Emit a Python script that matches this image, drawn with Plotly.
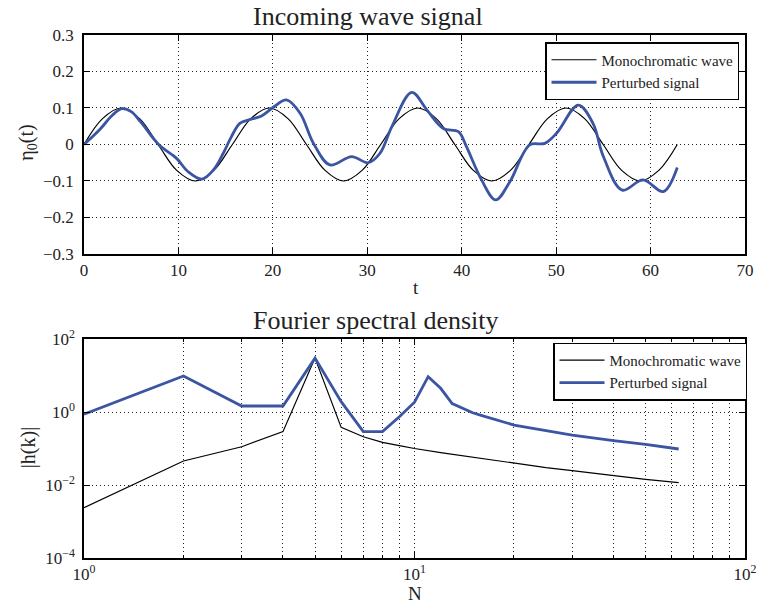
import plotly.graph_objects as go

# ---------------- data ----------------
# Top panel: incoming wave signal
t_mono = [0.00, 1.96, 3.93, 5.89, 7.85, 9.82, 11.78, 13.74, 15.71, 17.67, 19.63,
          21.60, 23.56, 25.53, 27.49, 29.45, 31.42, 33.38, 35.34, 37.31, 39.27,
          41.23, 43.20, 45.16, 47.12, 49.09, 51.05, 53.01, 54.98, 56.94, 58.90,
          60.87, 62.83]
eta_mono = [0.000, 0.071, 0.100, 0.071, 0.000, -0.071, -0.100, -0.071, 0.000, 0.071, 0.100,
            0.071, 0.000, -0.071, -0.100, -0.071, 0.000, 0.071, 0.100, 0.071, 0.000,
            -0.071, -0.100, -0.071, 0.000, 0.071, 0.100, 0.071, 0.000, -0.071, -0.100,
            -0.071, 0.000]

t_pert = [0.0, 1.7, 3.0, 4.0, 5.0, 6.0, 7.9, 9.8, 11.0, 12.5, 13.7, 14.75, 15.6, 16.5,
          17.4, 18.8, 20.05, 21.45, 22.9, 24.3, 26.05, 28.35, 30.1, 31.35, 32.6, 34.7,
          36.3, 38.05, 39.65, 40.5, 42.1, 43.6, 45.1, 47.2, 48.8, 50.05, 52.35, 53.9,
          55.0, 57.0, 59.2, 61.35, 62.83]
eta_pert = [0.000, 0.042, 0.080, 0.098, 0.090, 0.062, 0.000, -0.038, -0.074, -0.095, -0.070,
            -0.024, 0.021, 0.058, 0.067, 0.078, 0.102, 0.122, 0.085, 0.003, -0.056, -0.033,
            -0.050, -0.024, 0.049, 0.143, 0.095, 0.044, 0.035, -0.006, -0.097, -0.152,
            -0.102, -0.001, 0.003, 0.031, 0.108, 0.058, -0.033, -0.125, -0.097, -0.129,
            -0.063]

# Bottom panel: Fourier spectral density
N_mono = [1, 2, 3, 4, 5, 6, 7, 8, 9, 10, 12, 15, 20, 25, 30, 40, 50, 63]
h_mono = [0.0024, 0.0455, 0.112, 0.29, 30.0, 0.38, 0.21, 0.148, 0.12, 0.10, 0.077,
          0.057, 0.039, 0.030, 0.0247, 0.0177, 0.0143, 0.0116]

N_pert = [1, 2, 3, 4, 5, 6, 7, 8, 9, 10, 11, 12, 13, 14, 15, 16, 17, 18, 20, 25, 30,
          40, 50, 63]
h_pert = [0.865, 9.7, 1.46, 1.46, 30.0, 1.92, 0.29, 0.29, 0.74, 1.85, 9.3, 4.46, 1.7,
          1.26, 0.955, 0.80, 0.68, 0.58, 0.44, 0.31, 0.234, 0.164, 0.13, 0.097]

x2_tickvals = [1, 10, 100]
x2_ticktext = ["10<sup>0</sup>", "10<sup>1</sup>", "10<sup>2</sup>"]
x2_minorvals = [2, 3, 4, 5, 6, 7, 8, 9, 20, 30, 40, 50, 60, 70, 80, 90]
y2_tickvals = [1e-4, 1e-2, 1, 100]
y2_ticktext = ["10<sup>\u22124</sup>", "10<sup>\u22122</sup>", "10<sup>0</sup>", "10<sup>2</sup>"]

# ---------------- styling ----------------
FONT = "Liberation Serif"
BLUE = "#3b55a3"
GRIDDASH = "1px,3px"

fig = go.Figure()
fig.add_trace(go.Scatter(x=t_mono, y=eta_mono, mode="lines", name="Monochromatic wave",
                         line=dict(color="black", width=1.2, shape="spline"),
                         xaxis="x", yaxis="y", legend="legend"))
fig.add_trace(go.Scatter(x=t_pert, y=eta_pert, mode="lines", name="Perturbed signal",
                         line=dict(color=BLUE, width=2.8, shape="spline"),
                         xaxis="x", yaxis="y", legend="legend"))
fig.add_trace(go.Scatter(x=N_mono, y=h_mono, mode="lines", name="Monochromatic wave",
                         line=dict(color="black", width=1.2),
                         xaxis="x2", yaxis="y2", legend="legend2"))
fig.add_trace(go.Scatter(x=N_pert, y=h_pert, mode="lines", name="Perturbed signal",
                         line=dict(color=BLUE, width=2.8),
                         xaxis="x2", yaxis="y2", legend="legend2"))

axis_common = dict(showline=True, linecolor="black", linewidth=1.5, mirror="ticks",
                   ticks="inside", ticklen=6, tickcolor="black", tickwidth=1,
                   showgrid=True, gridcolor="#222222", gridwidth=1, griddash=GRIDDASH,
                   zeroline=False, automargin=False,
                   tickfont=dict(family=FONT, size=17, color="#222"))

fig.update_layout(
    width=762, height=605,
    margin=dict(l=84, r=17, t=35, b=47, autoexpand=False),
    paper_bgcolor="white", plot_bgcolor="white",
    font=dict(family=FONT, color="#222"),
    xaxis=dict(domain=[0, 1], range=[0, 70], dtick=10, anchor="y", **axis_common),
    yaxis=dict(domain=[0.5813, 1], range=[-0.3, 0.3], dtick=0.1, anchor="x",
               ticklabelstandoff=5, **axis_common),
    xaxis2=dict(domain=[0, 1], type="log", range=[0, 2], anchor="y2",
                tickvals=x2_tickvals, ticktext=x2_ticktext,
                minor=dict(tickvals=x2_minorvals, ticks="inside", ticklen=3,
                           tickcolor="black", showgrid=True, gridcolor="#222222",
                           gridwidth=1, griddash=GRIDDASH),
                **axis_common),
    yaxis2=dict(domain=[0, 0.4187], type="log", range=[-4, 2], anchor="x2",
                tickvals=y2_tickvals, ticktext=y2_ticktext, ticklabelstandoff=4,
                **axis_common),
    legend=dict(x=0.9914, y=0.986, xanchor="right", yanchor="top",
                bgcolor="white", bordercolor="black", borderwidth=1.2, itemwidth=45,
                font=dict(family=FONT, size=15, color="#222"), tracegroupgap=0),
    legend2=dict(x=1.0035, y=0.4117, xanchor="right", yanchor="top",
                 bgcolor="white", bordercolor="black", borderwidth=1.2, itemwidth=45,
                 font=dict(family=FONT, size=15, color="#222"), tracegroupgap=0),
    showlegend=True,
)

ann_font = dict(family=FONT, color="#222")
annotations = [
    dict(text="Incoming wave signal", x=0.4297, y=1.0363, xref="paper", yref="paper",
         xanchor="center", yanchor="middle", showarrow=False, font=dict(size=26, **ann_font)),
    dict(text="Fourier spectral density", x=0.4418, y=0.455, xref="paper", yref="paper",
         xanchor="center", yanchor="middle", showarrow=False, font=dict(size=26, **ann_font)),
    dict(text="t", x=0.5021, y=0.518, xref="paper", yref="paper",
         xanchor="center", yanchor="middle", showarrow=False, font=dict(size=19, **ann_font)),
    dict(text="N", x=0.5006, y=-0.0688, xref="paper", yref="paper",
         xanchor="center", yanchor="middle", showarrow=False, font=dict(size=19, **ann_font)),
    dict(text="\u03b7<sub>0</sub>(t)", x=-0.0847, y=0.794, xref="paper", yref="paper",
         xanchor="center", yanchor="middle", textangle=-90, showarrow=False,
         font=dict(size=20, **ann_font)),
    dict(text="|h(k)|", x=-0.0847, y=0.21, xref="paper", yref="paper",
         xanchor="center", yanchor="middle", textangle=-90, showarrow=False,
         font=dict(size=20, **ann_font)),
]
fig.update_layout(annotations=annotations)

fig.write_html("out.html", config={"displayModeBar": False},
               post_script="document.body.style.margin='0';document.body.style.padding='0';")
